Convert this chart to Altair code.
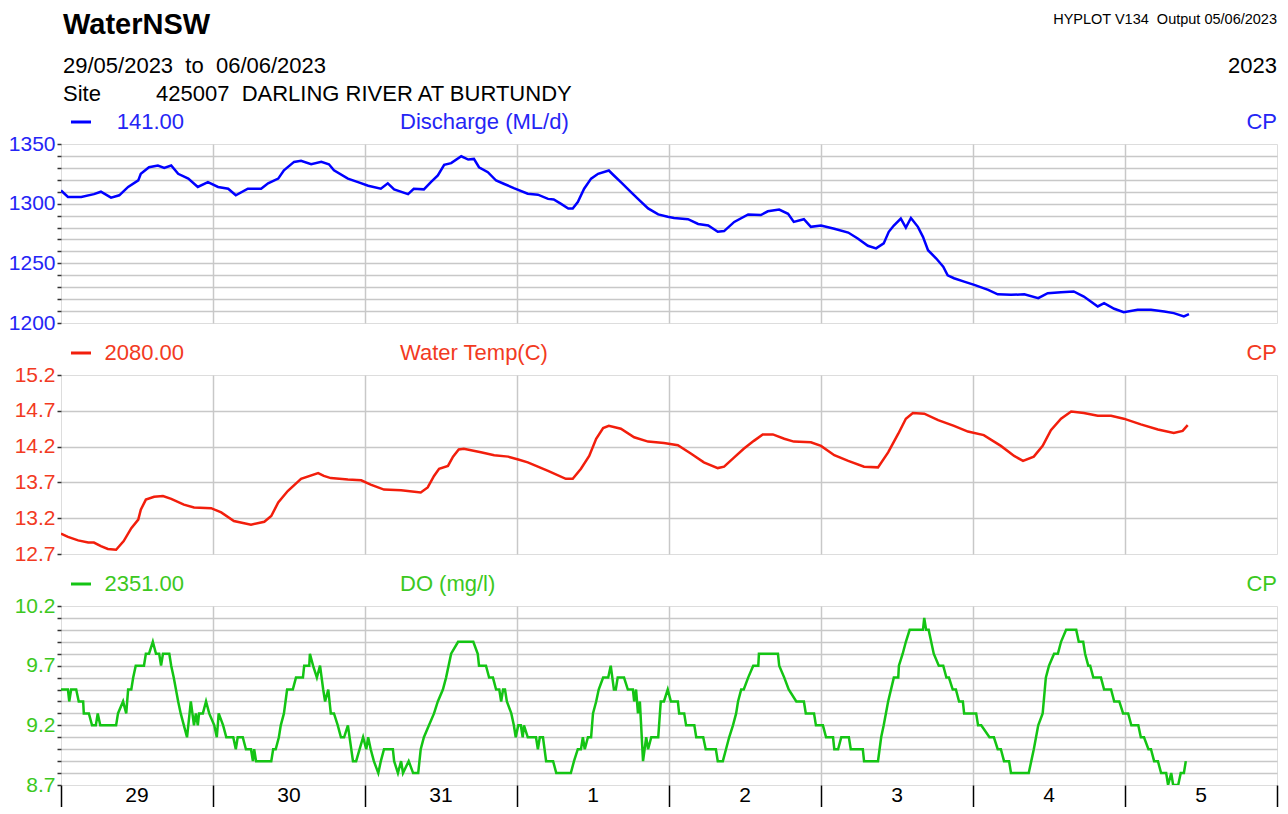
import json
import altair as alt
import pandas as pd

# ---------------- text ----------------
NB = "\u00a0"
TITLE = "WaterNSW"
PROGRAM = "HYPLOT V134" + NB + NB + "Output 05/06/2023"
PERIOD = "29/05/2023" + NB + NB + "to" + NB + NB + "06/06/2023"
YEAR = "2023"
SITE_LABEL = "Site"
SITE = "425007" + NB + NB + "DARLING RIVER AT BURTUNDY"
DAY_LABELS = ["29", "30", "31", "1", "2", "3", "4", "5"]
DAY_MID_HOURS = [12, 36, 60, 84, 108, 132, 156, 180]      # middle of each day
DAY_TICKS = [0, 24, 48, 72, 96, 120, 144, 168, 192]       # hours since 29/05/2023 00:00

# ---------------- data (hours since 29/05/2023 00:00) ----------------
Q_HOURS = [0.0, 1.1, 3.2, 5.2, 6.3, 7.9, 9.2, 10.6, 12.2, 12.6, 13.9, 15.3, 16.3, 17.4, 18.5, 20.1, 21.6,
           23.2, 24.8, 26.4, 27.6, 29.5, 31.6, 32.7, 34.3, 35.2, 36.8, 37.9, 39.5, 41.1, 42.3, 43.1, 45.3,
           46.9, 48.5, 50.5, 51.6, 52.6, 54.8, 55.7, 57.3, 58.4, 59.5, 60.5, 61.6, 63.2, 64.3, 65.2, 66.0,
           67.4, 68.7, 69.9, 71.5, 73.7, 75.3, 76.9, 77.8, 78.9, 80.1, 80.8, 81.6, 82.6, 83.7, 84.8, 86.5,
           87.3, 88.4, 90.0, 91.1, 92.7, 94.3, 95.8, 96.8, 99.0, 100.6, 102.2, 103.7, 104.7, 106.3, 108.5,
           110.5, 111.6, 113.4, 114.8, 115.7, 117.3, 118.4, 120.0, 122.1, 124.3, 125.8, 127.4, 128.7, 129.9,
           130.7, 131.5, 132.6, 133.4, 134.2, 135.3, 136.1, 136.9, 138.2, 139.3, 140.0, 141.0, 142.6, 144.2,
           146.4, 147.9, 150.0, 152.1, 154.3, 155.8, 157.9, 159.9, 161.5, 163.7, 164.7, 166.3, 167.8, 170.0,
           172.1, 174.2, 175.7, 177.3, 178.1]
Q_VALUES = [1311, 1305.6, 1305.6, 1308, 1310, 1305, 1307, 1314, 1319.5, 1325, 1330.5, 1332, 1330, 1332,
            1325, 1321, 1314, 1318, 1314, 1312.5, 1307, 1312.5, 1312.5, 1317, 1321, 1328, 1335, 1336, 1333,
            1335, 1333, 1328, 1321, 1318, 1315, 1312.5, 1317, 1312, 1308, 1312.5, 1312, 1318, 1323.6, 1332.5,
            1334, 1339.7, 1337, 1337.5, 1330.5, 1326.4, 1319.4, 1316.7, 1313, 1308.3, 1307.5, 1304, 1303.5,
            1300, 1296, 1296, 1301.4, 1312.5, 1321, 1325, 1327.8, 1323.6, 1318, 1309.7, 1304, 1296, 1291,
            1289, 1288, 1287, 1283, 1281.7, 1276.4, 1277, 1284.7, 1291, 1290.5, 1293.6, 1295, 1291.5, 1284.7,
            1287, 1280.6, 1281.7, 1279, 1275.8, 1270.8, 1264.7, 1262.5, 1266.7, 1276.4, 1281.7, 1287.5, 1280,
            1288, 1280.6, 1272.2, 1261, 1254, 1247.2, 1240, 1237.5, 1234.7, 1232, 1227.8, 1224, 1223.6, 1224,
            1220.8, 1225, 1225.8, 1226.4, 1222.2, 1213.9, 1216.7, 1211.9, 1209, 1211, 1211, 1209.7, 1208.3,
            1205.6, 1207.5]

T_HOURS = [0.0, 1.1, 2.7, 4.3, 5.2, 6.3, 7.4, 8.7, 9.9, 11.1, 12.2, 12.6, 13.4, 14.7, 16.1, 17.4, 19.4,
           21.0, 23.7, 25.3, 27.3, 30.0, 32.1, 33.2, 34.3, 35.8, 37.9, 40.6, 41.5, 42.6, 45.3, 47.4, 48.9,
           51.0, 53.7, 56.8, 57.9, 58.9, 59.7, 61.1, 61.9, 62.8, 63.6, 66.3, 68.4, 70.6, 72.2, 73.7, 76.9,
           79.7, 80.8, 82.1, 83.4, 84.5, 85.6, 86.5, 88.4, 90.5, 92.7, 95.2, 97.4, 99.5, 101.5, 103.7, 104.7,
           106.3, 107.8, 109.4, 110.8, 112.4, 114.2, 115.7, 118.4, 120.0, 122.1, 124.3, 126.8, 129.0, 130.6,
           132.2, 133.4, 134.5, 136.3, 138.5, 141.0, 143.2, 145.7, 148.4, 150.5, 151.9, 153.6, 155.0, 156.3,
           157.9, 159.5, 161.5, 163.7, 165.8, 167.8, 170.5, 173.2, 175.7, 177.1, 177.9]
T_VALUES = [12.985, 12.94, 12.89, 12.86, 12.86, 12.81, 12.77, 12.76, 12.88, 13.06, 13.18, 13.32, 13.46,
            13.50, 13.51, 13.47, 13.39, 13.35, 13.34, 13.28, 13.16, 13.11, 13.15, 13.23, 13.42, 13.58, 13.75,
            13.83, 13.79, 13.76, 13.74, 13.73, 13.67, 13.60, 13.59, 13.56, 13.63, 13.79, 13.89, 13.93, 14.06,
            14.16, 14.17, 14.12, 14.08, 14.06, 14.02, 13.98, 13.86, 13.75, 13.75, 13.89, 14.07, 14.31, 14.46,
            14.49, 14.45, 14.33, 14.27, 14.25, 14.22, 14.10, 13.98, 13.90, 13.92, 14.05, 14.17, 14.28, 14.37,
            14.37, 14.31, 14.27, 14.26, 14.21, 14.08, 14.00, 13.92, 13.91, 14.12, 14.38, 14.59, 14.67, 14.66,
            14.57, 14.49, 14.41, 14.36, 14.21, 14.07, 14.00, 14.06, 14.21, 14.43, 14.59, 14.69, 14.67, 14.63,
            14.63, 14.59, 14.51, 14.44, 14.39, 14.42, 14.50]

DO_HOURS = [0.0, 1.1, 1.3, 1.6, 2.4, 2.8, 3.5, 3.6, 4.4, 4.9, 5.5, 5.8, 6.2, 8.7, 9.0, 9.8, 10.3, 10.6,
            11.1, 11.4, 11.8, 13.1, 13.4, 13.9, 14.5, 15.0, 15.5, 15.8, 16.1, 17.1, 17.4, 17.8, 18.5, 18.9,
            19.4, 19.9, 20.5, 21.0, 21.3, 21.6, 21.8, 22.4, 22.9, 23.4, 24.2, 24.6, 24.9, 25.6, 26.1, 27.2,
            27.6, 27.9, 28.7, 29.2, 30.0, 30.3, 30.5, 30.8, 33.2, 33.5, 33.9, 34.4, 34.7, 35.2, 35.7, 36.6,
            37.1, 38.2, 38.4, 39.2, 39.3, 39.8, 40.4, 40.9, 41.4, 41.7, 42.2, 42.6, 43.1, 43.7, 44.2, 44.7,
            45.3, 46.1, 46.6, 47.7, 48.2, 48.5, 48.9, 49.4, 50.1, 50.5, 51.0, 52.4, 52.6, 53.2, 53.7, 54.0,
            54.9, 55.6, 56.4, 56.8, 57.3, 58.1, 58.9, 59.5, 60.3, 60.8, 61.6, 62.7, 65.1, 65.8, 66.0, 67.1,
            67.6, 68.2, 68.7, 69.2, 69.5, 69.8, 70.1, 70.4, 71.1, 71.5, 71.8, 72.2, 72.6, 72.9, 73.1, 73.7,
            75.0, 75.3, 75.6, 76.1, 76.6, 77.7, 78.2, 80.5, 81.0, 81.6, 82.1, 82.4, 82.7, 83.2, 83.7, 84.0,
            84.5, 84.9, 85.6, 86.4, 86.8, 87.3, 87.6, 87.9, 88.9, 89.5, 90.3, 90.5, 90.8, 91.1, 91.4, 91.9,
            92.4, 92.7, 93.2, 94.3, 94.7, 95.2, 95.8, 96.3, 97.4, 97.6, 98.4, 98.7, 100.0, 100.3, 101.4,
            101.8, 103.4, 103.7, 104.5, 105.0, 105.5, 106.1, 106.6, 106.9, 107.4, 107.8, 108.5, 109.3, 110.1,
            110.2, 113.2, 113.4, 114.2, 114.9, 116.1, 117.3, 117.6, 118.9, 119.2, 120.3, 120.8, 121.9, 122.1,
            122.7, 123.2, 124.4, 124.7, 126.6, 126.8, 129.0, 129.5, 129.9, 130.6, 131.5, 132.2, 132.3, 132.9,
            133.4, 134.0, 136.1, 136.3, 136.6, 137.0, 137.4, 137.8, 138.6, 139.3, 139.8, 140.2, 140.8, 141.3,
            141.8, 142.4, 142.6, 144.5, 144.8, 145.3, 146.6, 147.3, 147.9, 148.4, 148.9, 149.7, 150.0, 152.8,
            153.2, 153.6, 154.3, 155.0, 155.5, 156.0, 156.8, 157.4, 157.9, 158.7, 160.3, 160.7, 161.4, 161.7,
            162.2, 162.5, 163.0, 164.2, 164.7, 165.8, 166.3, 167.1, 167.7, 168.5, 169.0, 170.1, 170.5, 171.0,
            171.7, 172.1, 172.6, 173.2, 173.7, 174.5, 174.8, 175.3, 175.6, 176.4, 176.8, 177.3, 177.6]
DO_VALUES = [9.5, 9.5, 9.4, 9.5, 9.5, 9.4, 9.4, 9.3, 9.3, 9.2, 9.2, 9.3, 9.2, 9.2, 9.3, 9.4, 9.3, 9.5,
             9.5, 9.6, 9.7, 9.7, 9.8, 9.8, 9.9, 9.8, 9.8, 9.7, 9.8, 9.8, 9.7, 9.6, 9.4, 9.3,
             9.2, 9.1, 9.4, 9.2, 9.3, 9.2, 9.3, 9.3, 9.4, 9.3, 9.2, 9.1, 9.3, 9.2, 9.1, 9.1,
             9.0, 9.1, 9.1, 9.0, 9.0, 8.9, 9.0, 8.9, 8.9, 9.0, 9.0, 9.1, 9.2, 9.3, 9.5, 9.5,
             9.6, 9.6, 9.7, 9.7, 9.8, 9.7, 9.6, 9.7, 9.5, 9.4, 9.5, 9.3, 9.3, 9.2, 9.1, 9.1,
             9.2, 8.9, 8.9, 9.1, 9.0, 9.1, 9.0, 8.9, 8.8, 8.9, 9.0, 9.0, 8.9, 8.8, 8.9, 8.8,
             8.9, 8.8, 8.8, 9.0, 9.1, 9.2, 9.3, 9.4, 9.5, 9.6, 9.8, 9.9, 9.9, 9.8, 9.7, 9.7,
             9.6, 9.6, 9.5, 9.5, 9.4, 9.5, 9.5, 9.4, 9.3, 9.2, 9.1, 9.2, 9.2, 9.1, 9.2, 9.1,
             9.1, 9.0, 9.1, 9.1, 8.9, 8.9, 8.8, 8.8, 8.9, 9.0, 9.0, 9.1, 9.0, 9.1, 9.1, 9.3,
             9.4, 9.5, 9.6, 9.6, 9.7, 9.5, 9.5, 9.6, 9.6, 9.5, 9.5, 9.4, 9.5, 9.3, 9.4, 8.9,
             9.1, 9.0, 9.1, 9.1, 9.4, 9.4, 9.5, 9.4, 9.4, 9.3, 9.3, 9.2, 9.2, 9.1, 9.1,
             9.0, 9.0, 8.9, 8.9, 9.0, 9.1, 9.2, 9.3, 9.4, 9.5, 9.5, 9.6, 9.7, 9.7,
             9.8, 9.8, 9.7, 9.6, 9.5, 9.4, 9.4, 9.3, 9.3, 9.2, 9.2, 9.1, 9.1, 9.0,
             9.0, 9.1, 9.1, 9.0, 9.0, 8.9, 8.9, 9.1, 9.2, 9.4, 9.6, 9.6, 9.7, 9.8,
             9.9, 10.0, 10.0, 10.1, 10.0, 10.0, 9.9, 9.8, 9.7, 9.7, 9.6, 9.6, 9.5, 9.5,
             9.4, 9.4, 9.3, 9.3, 9.2, 9.2, 9.1, 9.1, 9.0, 9.0, 8.9, 8.9, 8.8, 8.8,
             8.9, 9.0, 9.2, 9.3, 9.6, 9.7, 9.8, 9.8, 9.9, 10.0, 10.0, 9.9, 9.9, 9.8,
             9.7, 9.7, 9.6, 9.6, 9.5, 9.5, 9.4, 9.4, 9.3, 9.3, 9.2, 9.2, 9.1, 9.1,
             9.0, 9.0, 8.9, 8.9, 8.8, 8.8, 8.7, 8.8, 8.7, 8.7, 8.8, 8.8, 8.9]

PANELS = [
    dict(hours=Q_HOURS, values=Q_VALUES, lo=1200, hi=1350, step=10, major=[1200, 1250, 1300, 1350], fmt="d",
         value_txt="141.00", name_txt="Discharge (ML/d)", flag="CP",
         line="#0000FF", text="#2525F5"),
    dict(hours=T_HOURS, values=T_VALUES, lo=12.7, hi=15.2, step=0.5, major=[12.7, 13.2, 13.7, 14.2, 14.7, 15.2],
         fmt=".1f", value_txt="2080.00", name_txt="Water Temp(C)", flag="CP",
         line="#F21E0C", text="#F23A22"),
    dict(hours=DO_HOURS, values=DO_VALUES, lo=8.7, hi=10.2, step=0.1, major=[8.7, 9.2, 9.7, 10.2],
         fmt=".1f", value_txt="2351.00", name_txt="DO (mg/l)", flag="CP",
         line="#14C414", text="#3CC81E"),
]

W, H = 1216, 179
FONT = "Liberation Sans"
GRID = "#C8C8C8"
TXT = 22


def txt(s, x, y, size=TXT, color="#000000", align="left", weight="normal"):
    return alt.Chart(pd.DataFrame({"t": [s]})).mark_text(
        align=align, baseline="alphabetic", fontSize=size, font=FONT, color=color, fontWeight=weight
    ).encode(text="t:N", x=alt.value(x), y=alt.value(y))


def panel(p, bottom=False, extra=()):
    df = pd.DataFrame({"h": p["hours"], "v": p["values"]})
    lo, hi, step = p["lo"], p["hi"], p["step"]
    n = int(round((hi - lo) / step))
    yvals = [round(lo + i * step, 3) for i in range(n + 1)]
    major = json.dumps(p["major"])
    yaxis = alt.Axis(
        values=yvals, title=None, grid=True, gridColor=GRID, gridWidth=1.5, format=p["fmt"],
        gridOpacity={"condition": {"test": f"datum.value <= {lo + 1e-6} || datum.value >= {hi - 1e-6}", "value": 0}, "value": 1},
        domain=False, ticks=True, tickSize=4, tickColor="#333333", tickWidth=1.5,
        labelExpr=f"indexof({major}, datum.value) >= 0 ? datum.label : ''",
        labelFont=FONT, labelFontSize=21, labelColor=p["text"], labelPadding=2,
        labelFlush=False, labelOverlap=False, labelBound=False,
    )
    grid_op = {"condition": {"test": "datum.value <= 0 || datum.value >= 192", "value": 0}, "value": 1}
    xscale = alt.Scale(domain=[0, 192], nice=False, zero=False)
    if bottom:
        xaxis = alt.Axis(
            values=DAY_TICKS, title=None, grid=True, gridColor=GRID, gridWidth=1.5, gridOpacity=grid_op,
            domain=False, ticks=True, tickSize=30, tickColor="#000000", tickWidth=1.5, labels=False,
        )
    else:
        xaxis = alt.Axis(values=DAY_TICKS, title=None, grid=True, gridColor=GRID, gridWidth=1.5,
                         gridOpacity=grid_op, domain=False, ticks=False, labels=False)
    line = alt.Chart(df).mark_line(color=p["line"], strokeWidth=2.5, clip=True).encode(
        x=alt.X("h:Q", scale=xscale, axis=xaxis),
        y=alt.Y("v:Q", scale=alt.Scale(domain=[lo, hi], nice=False, zero=False), axis=yaxis),
    )
    swatch = alt.Chart(pd.DataFrame({"t": [p["value_txt"]]})).mark_rule(
        color=p["line"], strokeWidth=3).encode(x=alt.value(10), x2=alt.value(30), y=alt.value(-22))
    layers = [line, swatch,
              txt(p["value_txt"], 123, -15, color=p["text"], align="right"),
              txt(p["name_txt"], 339, -15, color=p["text"]),
              txt(p["flag"], W, -15, color=p["text"], align="right")]
    if bottom:
        days = alt.Chart(pd.DataFrame({"h": DAY_MID_HOURS, "d": DAY_LABELS})).mark_text(
            align="center", baseline="alphabetic", fontSize=21, font=FONT, color="#000000"
        ).encode(x=alt.X("h:Q", scale=xscale), y=alt.value(H + 17), text="d:N")
        layers.append(days)
    layers += list(extra)
    return alt.layer(*layers).properties(width=W, height=H)


head = [
    txt(TITLE, 2, -110, size=29, weight="bold"),
    txt(PROGRAM, W, -120, size=14.5, align="right"),
    txt(PERIOD, 2, -71),
    txt(YEAR, W, -71, align="right"),
    txt(SITE_LABEL, 2, -43),
    txt(SITE, 95, -43),
]

chart = alt.vconcat(
    panel(PANELS[0], extra=head),
    panel(PANELS[1]),
    panel(PANELS[2], bottom=True),
    spacing=52,
).properties(
    bounds="flush",
    padding={"left": -1, "top": 2, "right": 0, "bottom": -10},
).configure_view(
    stroke="#404040", strokeWidth=1.5
).configure(background="#FFFFFF")

chart.save("out.html", embed_options={"renderer": "svg", "actions": False})
